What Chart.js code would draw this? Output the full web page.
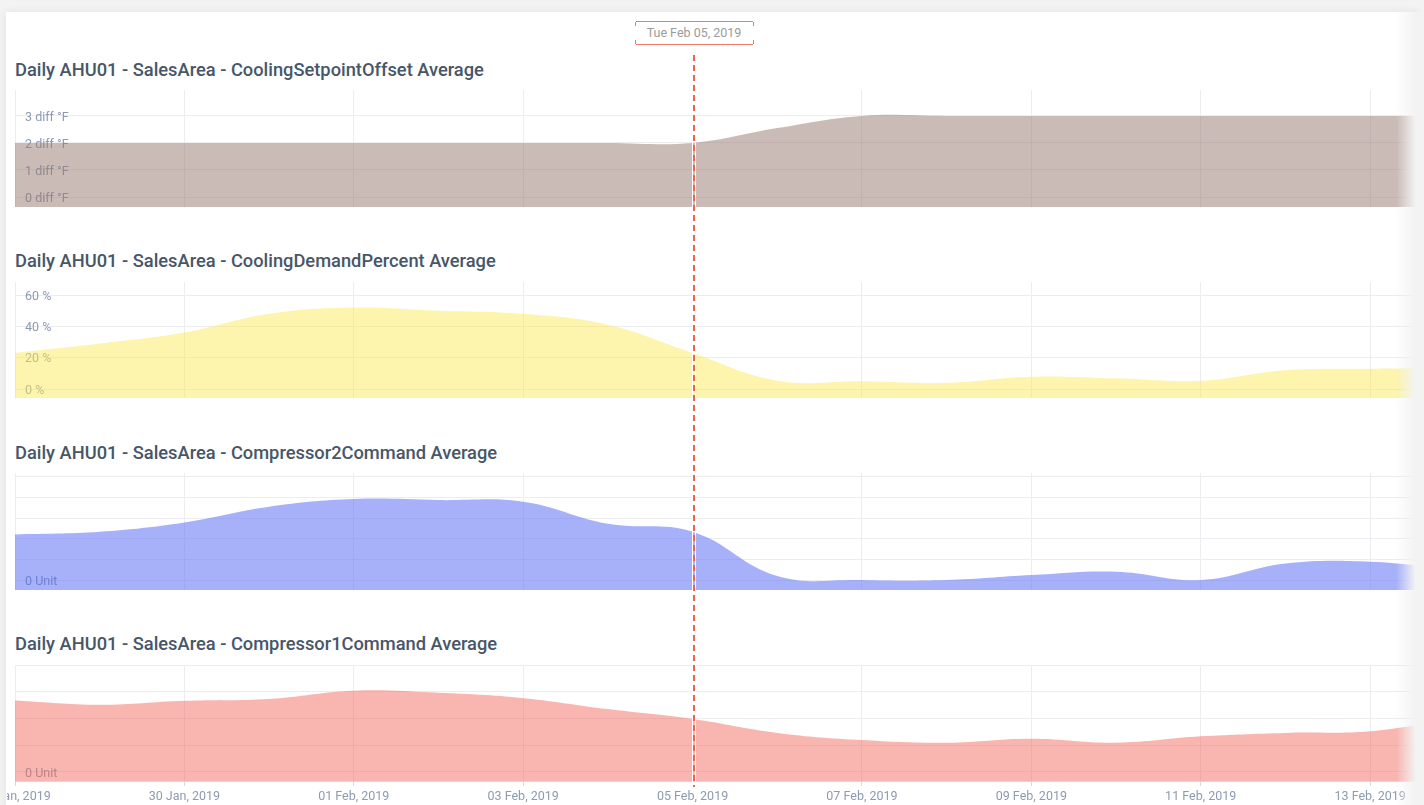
<!DOCTYPE html>
<html><head><meta charset="utf-8">
<script src="https://cdn.jsdelivr.net/npm/chart.js@4.4.0/dist/chart.umd.min.js"></script>
<style>
html,body{margin:0;padding:0;width:1424px;height:805px;overflow:hidden;background:#f3f3f3;font-family:Roboto,"Noto Sans",sans-serif;}
#card{position:absolute;left:6px;top:12px;width:1412px;height:820px;background:#fff;box-shadow:0 0 9px rgba(0,0,0,0.07);}
.title{position:absolute;left:15px;font-size:18.3px;font-weight:500;color:#475669;line-height:20px;white-space:nowrap;}
.cw{position:absolute;left:7px;width:1417px;}
.cw canvas{display:block;}
#fade{position:absolute;left:1396px;top:12px;width:28px;height:800px;background:linear-gradient(to right,rgba(243,243,243,0),rgba(243,243,243,1) 70%);pointer-events:none;}
#vline{position:absolute;top:55px;height:732px;width:2px;background:repeating-linear-gradient(to bottom,#f2604c 0,#f2604c 6px,transparent 6px,transparent 10px);box-shadow:0 0 0 1px #fff;}
#tip{position:absolute;top:21px;height:22px;width:117px;border-top:1px solid #f07a6a;border-bottom:1px solid #f07a6a;font-size:12.5px;color:#9b9b9b;text-align:center;line-height:22px;}
#tip:before,#tip:after{content:"";position:absolute;top:0;width:1px;height:100%;background:linear-gradient(to bottom,#f07a6a 0,#f07a6a 4px,transparent 4px,transparent 18px,#f07a6a 18px);}
#tip:before{left:-1px;}#tip:after{right:-1px;}
</style></head>
<body>
<div id="card"></div>
<div class="title" style="top:60px">Daily AHU01 - SalesArea - CoolingSetpointOffset Average</div>
<div class="title" style="top:251px">Daily AHU01 - SalesArea - CoolingDemandPercent Average</div>
<div class="title" style="top:443px">Daily AHU01 - SalesArea - Compressor2Command Average</div>
<div class="title" style="top:634px">Daily AHU01 - SalesArea - Compressor1Command Average</div>
<div class="cw" style="top:90px"><canvas id="c1" width="1417" height="117"></canvas></div>
<div class="cw" style="top:282px"><canvas id="c2" width="1417" height="116"></canvas></div>
<div class="cw" style="top:473px"><canvas id="c3" width="1417" height="117"></canvas></div>
<div class="cw" style="top:665px"><canvas id="c4" width="1417" height="142"></canvas></div>
<div id="fade"></div>
<div id="vline"></div>
<div id="tip"></div>
<script>
// ---- data ----
const dayLabels = ['28 Jan, 2019','29 Jan, 2019','30 Jan, 2019','31 Jan, 2019','01 Feb, 2019','02 Feb, 2019','03 Feb, 2019','04 Feb, 2019','05 Feb, 2019','06 Feb, 2019','07 Feb, 2019','08 Feb, 2019','09 Feb, 2019','10 Feb, 2019','11 Feb, 2019','12 Feb, 2019','13 Feb, 2019','14 Feb, 2019'];
const dayIndex = [0,1,2,3,4,5,6,7,8,9,10,11,12,13,14,15,16,17];
const setpointOffset = [2,2,2,2,2,2,2,2,2,2.55,3,3,3,3,3,3,3,3];
const demandPercent = [23,29,36,48,52,50,48,41,23,5.3,5,4,7.9,6.8,5.3,12,13,13.5];
const compressor2 = [0.221,0.234,0.279,0.355,0.392,0.387,0.379,0.272,0.234,0.02,0,0,0.024,0.04,0,0.08,0.089,0.05];
const compressor1 = [0.267,0.251,0.266,0.273,0.304,0.296,0.276,0.235,0.198,0.146,0.119,0.109,0.124,0.109,0.133,0.146,0.152,0.2];
const xTicks = [0,2,4,6,8,10,12,14,16];
const markerDay = 8;
const markerLabel = 'Tue Feb 05, 2019';
const ticks1 = [0,1,2,3];
const ticks2 = [0,20,40,60];
const ticks3 = [0,0.1,0.2,0.3,0.4,0.5];
const ticks4 = [0,0.1,0.2,0.3,0.4];

const GRID = '#ececf1';
const TICKCOL = 'rgba(120,138,165,0.85)';
const X_MAX = 16.53;
const CANVAS_LEFT = 7;

function makeChart(id, values, color, yMin, yMax, yTicks, fmt, showX){
  const pts = dayIndex.map((d,i)=>({x:d,y:values[i]}));
  return new Chart(document.getElementById(id), {
    type:'line',
    data:{datasets:[{data:pts, fill:'start', backgroundColor:color, borderWidth:0, borderColor:'rgba(0,0,0,0)', pointRadius:0, tension:0.4}]},
    options:{
      responsive:false, animation:false, devicePixelRatio:1,
      layout:{padding:{left:8,right:9,top:0,bottom:0}},
      plugins:{legend:{display:false},tooltip:{enabled:false}},
      scales:{
        x:{type:'linear', min:0, max:X_MAX,
          afterBuildTicks:s=>{s.ticks = xTicks.map(v=>({value:v}));},
          afterFit:s=>{s.paddingLeft=0;s.paddingRight=0;},
          grid:{color:GRID, drawTicks:showX, tickLength:5, tickColor:'#d3d9e3'},
          border:{display:showX, color:'#d3d9e3'},
          ticks:{display:showX, color:TICKCOL, font:{family:'Roboto',size:12.5}, padding:3, maxRotation:0, autoSkip:false,
            callback:v=>dayLabels[v]}
        },
        y:{type:'linear', min:yMin, max:yMax,
          afterBuildTicks:s=>{s.ticks = yTicks.map(v=>({value:v}));},
          afterFit:s=>{s.width=0;s.paddingTop=0;s.paddingBottom=0;},
          grid:{color:GRID, drawTicks:false},
          border:{display:false},
          ticks:{mirror:true, padding:10, labelOffset:1.5, color:TICKCOL, font:{family:'Roboto',size:12.5}, callback:fmt}
        }
      }
    }
  });
}

makeChart('c1', setpointOffset, 'rgba(150,120,110,0.5)', -0.37, 3.96, ticks1, v=>v+' diff °F', false);
makeChart('c2', demandPercent, 'rgba(251,232,85,0.48)', -5.74, 68.3, ticks2, v=>v+' %', false);
makeChart('c3', compressor2, 'rgba(80,100,245,0.5)', -0.048, 0.518, ticks3, v=>v===0?'0 Unit':'', false);
const c4 = makeChart('c4', compressor1, 'rgba(243,100,88,0.48)', -0.034, 0.4, ticks4, v=>v===0?'0 Unit':'', true);

const mx = CANVAS_LEFT + c4.scales.x.getPixelForValue(markerDay);
const vl = document.getElementById('vline');
vl.style.left = Math.round(mx) + 'px';
const tip = document.getElementById('tip');
tip.textContent = markerLabel;
tip.style.left = (Math.round(mx) - 57.5) + 'px';
</script>
</body></html>
